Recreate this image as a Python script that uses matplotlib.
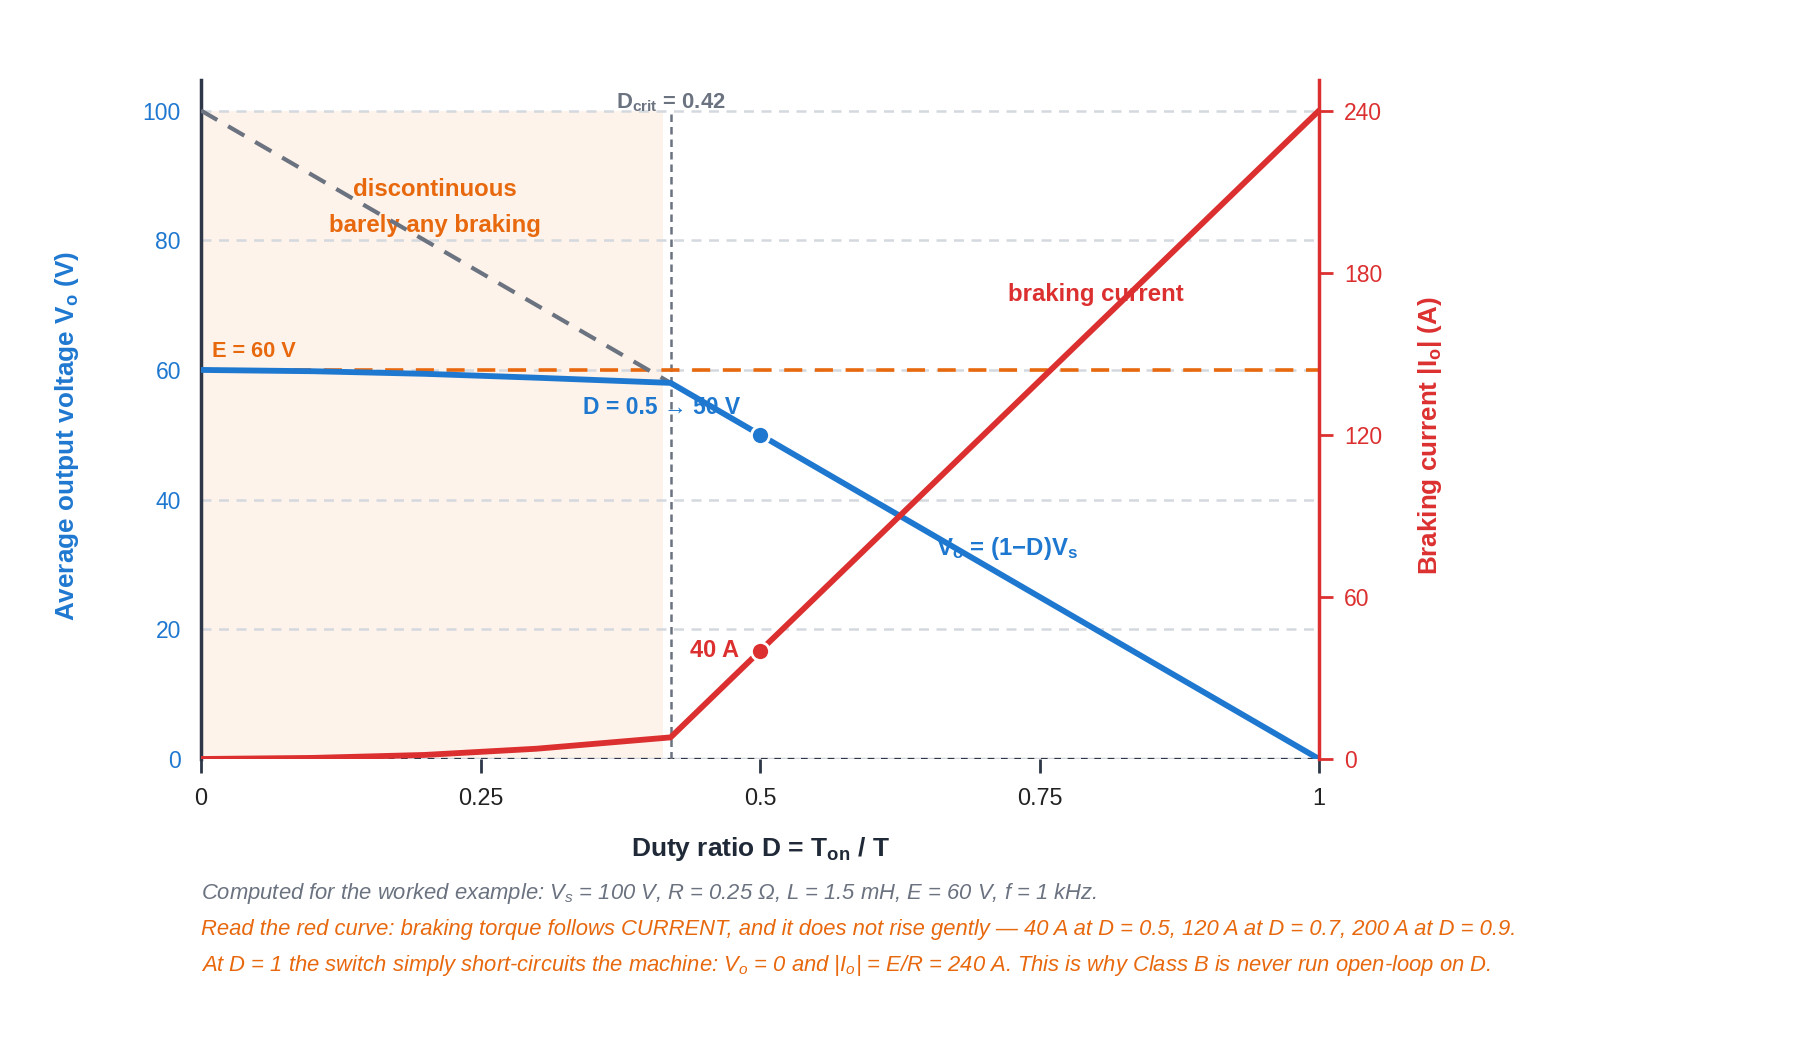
import numpy as np
import matplotlib
matplotlib.use("Agg")
import matplotlib.pyplot as plt

plt.rcParams['font.family'] = ['Liberation Sans', 'DejaVu Sans']
plt.rcParams['mathtext.default'] = 'regular'

# duty ratio sample points and read-off values
duty = [0, 0.1, 0.2, 0.3, 0.42, 0.5, 0.7, 0.9, 1.0]
v_out = [60, 59.8, 59.4, 58.8, 58, 50, 30, 10, 0]          # V
i_brake = [0, 0.4, 1.5, 3.8, 8, 40, 120, 200, 240]         # A
ideal_duty = [0, 0.42]
ideal_v = [100, 58]
d_crit = 0.42
e_back = 60
marker_d = 0.5
marker_v = 50
marker_i = 40

left_ticks = [0, 20, 40, 60, 80, 100]
right_ticks = [0, 60, 120, 180, 240]
x_ticks = [0, 0.25, 0.5, 0.75, 1]
x_labels = ["0", "0.25", "0.5", "0.75", "1"]

BLUE = "#1f78d0"
RED = "#dc3030"
ORANGE = "#e8680e"
GRAY = "#6b7280"
DARK = "#2d3748"
GRID = "#d4d8df"

fig = plt.figure(figsize=(18, 10.4), dpi=100)
ax = fig.add_axes([0.1117, 0.2702, 0.7328 - 0.1117, 0.923 - 0.2702])
ax2 = ax.twinx()

top = 104.7
ax.set_xlim(0, 1)
ax.set_ylim(0, top)
ax2.set_ylim(0, top * 2.4)

# shaded DCM region + grid
ax.fill_between([0, 0.413], 0, 100, color="#fdf3ea", zorder=0, lw=0)
for t in left_ticks[1:]:
    ax.axhline(t, color=GRID, lw=1.8, ls=(0, (4, 3)), zorder=1)
ax.axhline(0, color=GRID, lw=2.5, zorder=1)
ax.axhline(0, color=DARK, lw=1.6, ls=(0, (3, 3)), zorder=2)

ax.plot([d_crit, d_crit], [0, 100], color=GRAY, lw=1.8, ls=(0, (3, 2)), zorder=2)
ax.axhline(e_back, color=ORANGE, lw=2.6, ls=(0, (5, 3.5)), zorder=2)
ax.plot(ideal_duty, ideal_v, color=GRAY, lw=3, ls=(0, (4.5, 3)), zorder=3)
ax.plot(duty, v_out, color=BLUE, lw=4.2, zorder=4, solid_capstyle="round")
ax.plot([marker_d], [marker_v], "o", color=BLUE, ms=13, mec="white", mew=2, zorder=6)

ax2.plot(duty, i_brake, color=RED, lw=4.2, zorder=4, solid_capstyle="round")
ax2.plot([marker_d], [marker_i], "o", color=RED, ms=13, mec="white", mew=2, zorder=6)

# annotations
ax.text(0.209, 87.8, "discontinuous", color=ORANGE, fontsize=17.3, fontweight="bold",
        ha="center", va="center", zorder=2.5)
ax.text(0.209, 82.3, "barely any braking", color=ORANGE, fontsize=17.3, fontweight="bold",
        ha="center", va="center", zorder=2.5)
ax.text(0.01, 62.8, "E = 60 V", color=ORANGE, fontsize=15.7, fontweight="bold",
        ha="left", va="center", zorder=2.5)
ax.text(d_crit, 100.35, "D$_{crit}$ = 0.42", color=GRAY, fontsize=15.8, fontweight="bold",
        ha="center", va="baseline", zorder=2.5)
ax.text(0.482, 54.2, "D = 0.5 \u2192 50 V", color=BLUE, fontsize=16.5, fontweight="bold",
        ha="right", va="center", zorder=2.5)
ax.text(0.80, 71.6, "braking current", color=RED, fontsize=17.3, fontweight="bold",
        ha="center", va="center", zorder=2.5)
ax.text(0.721, 32.4, "V$_o$ = (1\u2212D)V$_s$", color=BLUE, fontsize=17.3, fontweight="bold",
        ha="center", va="center", zorder=2.5)
ax2.text(0.481, 40, "40 A", color=RED, fontsize=17, fontweight="bold",
         ha="right", va="center", zorder=2.5)

# axes styling
ax.set_xticks(x_ticks)
ax.set_xticklabels(x_labels)
ax.set_yticks(left_ticks)
ax.tick_params(axis="x", colors=DARK, labelsize=16.8, length=10, width=2, pad=10,
               labelcolor="#222222")
ax.tick_params(axis="y", length=0, labelsize=16.5, labelcolor=BLUE, pad=14.5)
ax2.set_yticks(right_ticks)
ax2.tick_params(axis="y", colors=RED, labelsize=16.5, length=10, width=2, pad=8)

for a in (ax, ax2):
    a.spines["top"].set_visible(False)
    a.spines["bottom"].set_visible(False)
ax.spines["right"].set_visible(False)
ax2.spines["left"].set_visible(False)
ax.spines["left"].set_color(DARK)
ax.spines["left"].set_linewidth(2.5)
ax2.spines["right"].set_color(RED)
ax2.spines["right"].set_linewidth(2.5)

ax.set_ylabel("Average output voltage V$_o$ (V)", color=BLUE, fontsize=18.8,
              fontweight="bold")
ax2.set_ylabel("Braking current |I$_o$| (A)", color=RED, fontsize=18.7,
               fontweight="bold")
ax.yaxis.set_label_coords(-0.1073, 0.4757)
ax2.yaxis.set_label_coords(1.0868, 0.4757)
ax.set_xlabel("Duty ratio D = T$_{on}$ / T", color="#1f2937", fontsize=19,
              fontweight="bold", labelpad=18)

fig.text(0.1117, 0.136, "Computed for the worked example: V$_s$ = 100 V, R = 0.25 \u03a9, "
         "L = 1.5 mH, E = 60 V, f = 1 kHz.", color=GRAY, fontsize=15.8, style="italic")
fig.text(0.1117, 0.101, "Read the red curve: braking torque follows CURRENT, and it does not "
         "rise gently \u2014 40 A at D = 0.5, 120 A at D = 0.7, 200 A at D = 0.9.",
         color=ORANGE, fontsize=15.8, style="italic")
fig.text(0.1117, 0.066, "At D = 1 the switch simply short-circuits the machine: V$_o$ = 0 "
         "and |I$_o$| = E/R = 240 A. This is why Class B is never run open-loop on D.",
         color=ORANGE, fontsize=15.8, style="italic")

fig.savefig("out.png", dpi=100)
